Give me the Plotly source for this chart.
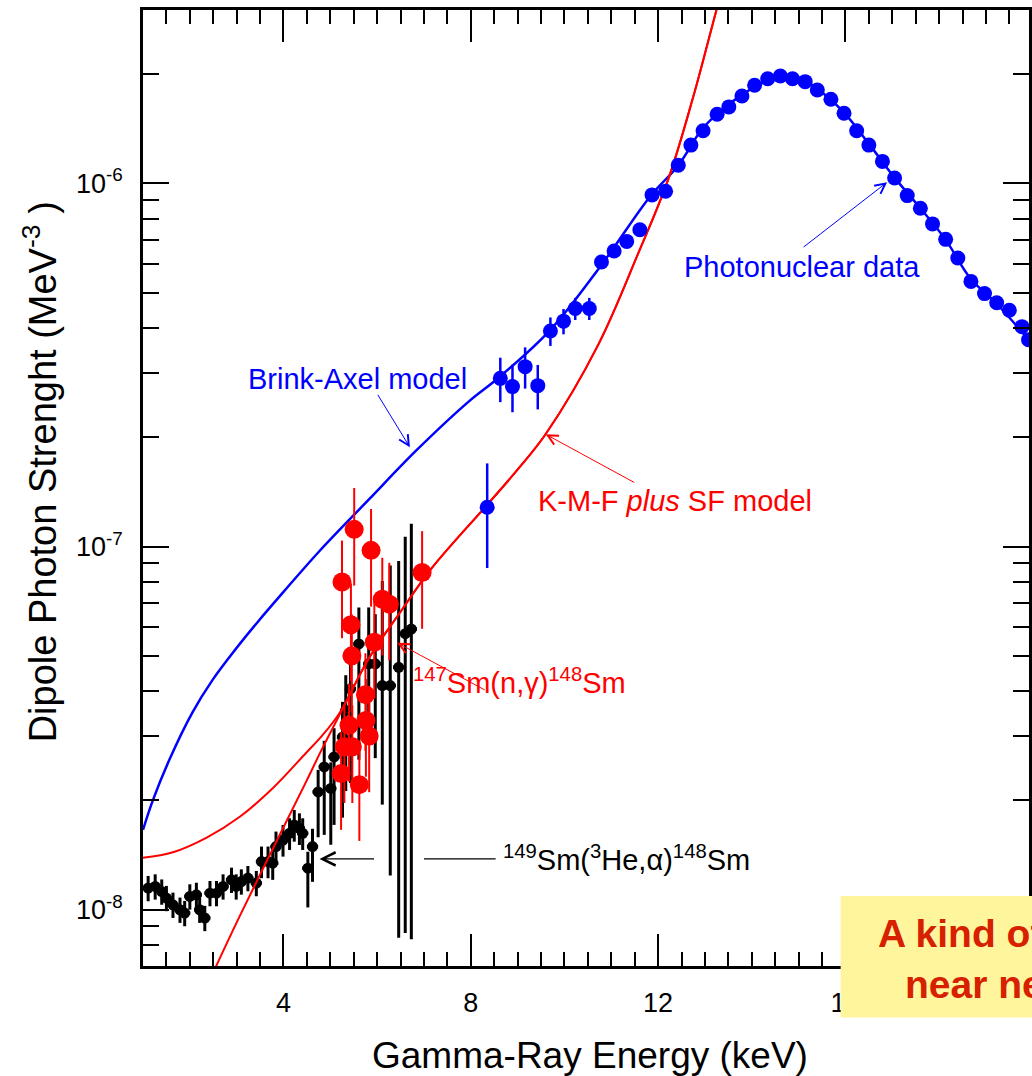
import math
import plotly.graph_objects as go

# ------------------------------------------------------------
# Data
# ------------------------------------------------------------

# 149Sm(3He,a)148Sm  (black points), energy in keV, strength in MeV^-3
he3_energy = [1.11, 1.26, 1.40, 1.50, 1.64, 1.79, 1.89, 2.00, 2.14, 2.21,
              2.32, 2.43, 2.57, 2.71, 2.89, 2.99, 3.10, 3.24, 3.42, 3.53,
              3.67, 3.77, 3.84, 3.99, 4.13, 4.23, 4.34, 4.41, 4.52, 4.62,
              4.74, 4.87, 5.01, 5.08, 5.26, 5.33, 5.43, 5.61, 5.82, 5.96,
              6.11, 6.28, 6.46, 6.60, 6.73]
he3_strength = [1.147e-8, 1.159e-8, 1.122e-8, 1.077e-8, 1.032e-8, 1.000e-8, 0.979e-8, 1.088e-8, 1.099e-8, 1.000e-8,
                0.949e-8, 1.111e-8, 1.111e-8, 1.159e-8, 1.209e-8, 1.159e-8, 1.196e-8, 1.222e-8, 1.184e-8, 1.357e-8,
                1.357e-8, 1.343e-8, 1.492e-8, 1.556e-8, 1.623e-8, 1.711e-8, 1.675e-8, 1.623e-8, 1.301e-8, 1.492e-8,
                2.111e-8, 2.473e-8, 2.157e-8, 2.634e-8, 2.988e-8, 3.538e-8, 4.057e-8, 5.392e-8, 4.753e-8, 4.753e-8,
                4.143e-8, 4.143e-8, 4.651e-8, 5.754e-8, 5.927e-8]
he3_err_up_pct = [8, 8, 8, 8, 8, 8, 8, 8, 8, 8,
                  8, 8, 8, 8, 8, 8, 8, 8, 8, 10,
                  10, 10, 10, 10, 10, 10, 10, 10, 11, 12,
                  15, 18, 18, 20, 25, 25, 30, 26, 43, 37,
                  94, 114, 96, 85, 95]
he3_err_dn_pct = [8, 8, 8, 8, 8, 8, 8, 8, 8, 8,
                  8, 8, 8, 8, 8, 8, 8, 8, 8, 10,
                  10, 10, 10, 10, 10, 10, 10, 10, 22, 20,
                  25, 35, 30, 35, 40, 40, 45, 52, 38, 45,
                  53, 70, 82, 85, 86]

# 147Sm(n,g)148Sm  (red points), 30 % errors
ng_energy = [5.51, 5.87, 5.25, 6.96, 6.11, 6.26, 5.44, 5.94, 5.46,
             5.75, 5.40, 5.76, 5.83, 5.30, 5.47, 5.23, 5.62]
ng_strength = [1.115e-7, 9.76e-8, 7.99e-8, 8.48e-8, 7.16e-8, 6.94e-8, 6.09e-8, 5.45e-8, 5.00e-8,
               3.91e-8, 3.22e-8, 3.32e-8, 3.01e-8, 2.81e-8, 2.81e-8, 2.37e-8, 2.21e-8]
ng_err_pct = 30

# Photonuclear data (blue points)
gdr_energy = [8.35, 8.63, 8.89, 9.16, 9.43, 9.70, 9.98, 10.23, 10.53, 10.79,
              11.06, 11.33, 11.61, 11.87, 12.16, 12.43, 12.70, 12.96, 13.26, 13.51,
              13.79, 14.06, 14.34, 14.61, 14.87, 15.14, 15.40, 15.69, 15.97, 16.24,
              16.50, 16.79, 17.05, 17.32, 17.60, 17.86, 18.14, 18.40, 18.68, 18.97,
              19.23, 19.50, 19.77, 19.91]
gdr_strength = [1.283e-7, 2.904e-7, 2.756e-7, 3.128e-7, 2.773e-7, 3.919e-7, 4.173e-7, 4.52e-7, 4.52e-7, 6.07e-7,
                6.51e-7, 6.92e-7, 7.45e-7, 9.29e-7, 9.51e-7, 1.122e-6, 1.274e-6, 1.395e-6, 1.549e-6, 1.623e-6,
                1.740e-6, 1.861e-6, 1.941e-6, 1.975e-6, 1.941e-6, 1.905e-6, 1.807e-6, 1.703e-6, 1.559e-6, 1.395e-6,
                1.274e-6, 1.149e-6, 1.034e-6, 9.25e-7, 8.54e-7, 7.73e-7, 7.01e-7, 6.23e-7, 5.37e-7, 4.97e-7,
                4.69e-7, 4.47e-7, 4.03e-7, 3.71e-7]
gdr_err_pct = [32, 14, 15, 13, 14, 9, 8, 7, 7, 3,
               3, 2, 2, 2, 2, 0, 0, 0, 0, 0,
               0, 0, 0, 0, 0, 0, 0, 0, 0, 0,
               0, 0, 0, 0, 0, 0, 0, 0, 0, 0,
               0, 0, 0, 0]

# Brink-Axel model curve
ba_energy = [1.0, 1.21, 1.57, 2.06, 2.49, 2.98, 3.45, 4.0, 4.77, 5.83,
             6.82, 7.96, 8.60, 9.70, 10.79, 11.85, 12.43, 12.92, 13.28, 13.81,
             14.34, 14.62, 14.87, 15.15, 15.40, 15.96, 16.51, 17.04, 17.60, 18.13,
             18.68, 19.23, 19.91]
ba_strength = [1.66e-8, 2.00e-8, 2.60e-8, 3.50e-8, 4.30e-8, 5.22e-8, 6.20e-8, 7.5e-8, 9.72e-8, 1.35e-7,
               1.83e-7, 2.51e-7, 2.92e-7, 3.95e-7, 5.96e-7, 9.27e-7, 1.12e-6, 1.40e-6, 1.56e-6, 1.76e-6,
               1.92e-6, 1.97e-6, 1.95e-6, 1.91e-6, 1.82e-6, 1.57e-6, 1.28e-6, 1.04e-6, 8.54e-7, 7.02e-7,
               5.45e-7, 4.66e-7, 3.71e-7]

# K-M-F plus SF model: two low-energy branches joining one upper curve
kmf_flat_energy = [1.0, 1.64, 2.36, 3.06, 3.77, 4.49, 4.83, 5.19]
kmf_flat_strength = [1.39e-8, 1.44e-8, 1.58e-8, 1.80e-8, 2.16e-8, 2.71e-8, 3.02e-8, 3.47e-8]
kmf_steep_energy = [2.43, 3.06, 3.77, 4.49, 4.81, 5.30]
kmf_steep_strength = [6.43e-9, 9.57e-9, 1.47e-8, 2.26e-8, 2.75e-8, 3.65e-8]
kmf_energy = [5.83, 6.47, 7.17, 8.32, 9.02, 9.60, 10.72, 11.57, 12.21, 12.75, 13.23, 13.38]
kmf_strength = [4.94e-8, 6.53e-8, 8.73e-8, 1.29e-7, 1.64e-7, 2.04e-7, 3.59e-7, 6.39e-7, 1.02e-6, 1.73e-6,
                2.95e-6, 3.47e-6]

# Axis ticks
x_major = [4, 8, 12, 16]
y_major = [1e-8, 1e-7, 1e-6]
y_major_text = ["10<sup>-8</sup>", "10<sup>-7</sup>", "10<sup>-6</sup>"]
y_minor = [8e-9, 9e-9] + [k * 1e-8 for k in range(2, 10)] + [k * 1e-7 for k in range(2, 10)] + [2e-6, 3e-6]

FONT = "Liberation Sans, Arial, sans-serif"
BLUE = "#0000FF"
RED = "#FF0000"

# ------------------------------------------------------------
# Figure
# ------------------------------------------------------------

fig = go.Figure()

fig.add_trace(go.Scatter(
    x=he3_energy, y=he3_strength, mode="markers",
    marker=dict(color="black", size=11),
    error_y=dict(type="data", array=[y * p / 100 for y, p in zip(he3_strength, he3_err_up_pct)],
                 arrayminus=[y * p / 100 for y, p in zip(he3_strength, he3_err_dn_pct)],
                 color="black", thickness=3, width=0),
    error_x=dict(type="constant", value=0.12, color="black", thickness=3.5, width=0),
    showlegend=False,
))

fig.add_trace(go.Scatter(
    x=ba_energy, y=ba_strength, mode="lines",
    line=dict(color=BLUE, width=2.5, shape="spline"),
    showlegend=False,
))

fig.add_trace(go.Scatter(
    x=kmf_flat_energy + kmf_energy, y=kmf_flat_strength + kmf_strength, mode="lines",
    line=dict(color=RED, width=2, shape="spline"),
    showlegend=False,
))
fig.add_trace(go.Scatter(
    x=kmf_steep_energy + kmf_energy, y=kmf_steep_strength + kmf_strength, mode="lines",
    line=dict(color=RED, width=2, shape="spline"),
    showlegend=False,
))

fig.add_trace(go.Scatter(
    x=ng_energy, y=ng_strength, mode="markers",
    marker=dict(color=RED, size=19),
    error_y=dict(type="percent", value=ng_err_pct, color=RED, thickness=2, width=0),
    showlegend=False,
))

fig.add_trace(go.Scatter(
    x=gdr_energy, y=gdr_strength, mode="markers",
    marker=dict(color=BLUE, size=15),
    error_y=dict(type="data", array=[y * p / 100 for y, p in zip(gdr_strength, gdr_err_pct)],
                 color=BLUE, thickness=2.5, width=0),
    showlegend=False,
))


def lg(v):
    return math.log10(v)


label_font = dict(family=FONT, size=29)
annotations = [
    # labels
    dict(x=5.57, y=-6.538, text="Brink-Axel model", font=dict(label_font, color=BLUE)),
    dict(x=15.08, y=-6.23, text="Photonuclear data", font=dict(label_font, color=BLUE)),
    dict(x=12.35, y=-6.875, text="K-M-F <i>plus</i> SF model", font=dict(label_font, color=RED)),
    dict(x=9.05, y=-7.369, text="<sup>147</sup>Sm(n,γ)<sup>148</sup>Sm", font=dict(label_font, color=RED)),
    dict(x=11.33, y=-7.857, text="<sup>149</sup>Sm(<sup>3</sup>He,α)<sup>148</sup>Sm",
         font=dict(label_font, color="black")),
    # arrows
    dict(x=6.70, y=-6.727, ax=-33, ay=-54, text="", showarrow=True, arrowhead=5, arrowsize=2,
         arrowwidth=1, arrowcolor=BLUE),
    dict(x=16.89, y=-5.997, ax=-85, ay=66, text="", showarrow=True, arrowhead=5, arrowsize=2,
         arrowwidth=1, arrowcolor=BLUE),
    dict(x=9.60, y=-6.691, ax=90, ay=49, text="", showarrow=True, arrowhead=5, arrowsize=2,
         arrowwidth=1, arrowcolor=RED),
    dict(x=6.43, y=-7.265, ax=89, ay=48, text="", showarrow=True, arrowhead=5, arrowsize=2,
         arrowwidth=1, arrowcolor=RED),
    dict(x=4.77, y=-7.860, ax=56, ay=0, text="", showarrow=True, arrowhead=5, arrowsize=2,
         arrowwidth=1.3, arrowcolor="black"),
]
for a in annotations:
    a.setdefault("xref", "x")
    a.setdefault("yref", "y")
    a.setdefault("showarrow", False)
    fig.add_annotation(**a)

# axis titles placed as annotations
title_font = dict(family=FONT, color="black")
fig.add_annotation(xref="paper", yref="paper", x=0.504, y=-0.0931, xanchor="center", yanchor="middle",
                   text="Gamma-Ray Energy (keV)", showarrow=False, font=dict(title_font, size=37))
fig.add_annotation(xref="paper", yref="paper", x=-0.1159, y=0.5167, xanchor="center", yanchor="middle",
                   textangle=-90, text="Dipole Photon Strenght (MeV<sup>-3</sup> )", showarrow=False,
                   font=dict(title_font, size=38))

# second half of the 3He arrow line
fig.add_shape(type="line", xref="x", yref="paper", x0=7.0, x1=8.53, y0=0.112, y1=0.112,
              line=dict(color="black", width=1.3))

# yellow note box (cut by the right edge of the picture)
fig.add_shape(type="rect", xref="paper", yref="paper", x0=0.7874, x1=1.05, y0=-0.054, y1=0.0732,
              fillcolor="#FFF59D", line=dict(width=0), layer="above")
box_font = dict(family=FONT, size=39, color="#D62000")
fig.add_annotation(xref="paper", yref="paper", x=0.8268, y=0.0345, xanchor="left", yanchor="middle",
                   text="<b>A kind of pygmy resonance</b>", showarrow=False, font=box_font)
fig.add_annotation(xref="paper", yref="paper", x=0.8583, y=-0.0195, xanchor="left", yanchor="middle",
                   text="<b>near neutron threshold</b>", showarrow=False, font=box_font)

fig.update_xaxes(
    range=[1, 19.92],
    showline=True, linewidth=2.5, linecolor="black", mirror="ticks",
    ticks="inside", ticklen=32, tickwidth=2, tickcolor="black",
    tickmode="array", tickvals=x_major,
    tickfont=dict(family=FONT, size=27, color="black"),
    ticklabelstandoff=11,
    minor=dict(ticks="inside", dtick=0.5, tick0=0, ticklen=14, tickwidth=2, tickcolor="black"),
    showgrid=False, zeroline=False,
)
fig.update_yaxes(
    type="log", range=[lg(7e-9), lg(3e-6)],
    showline=True, linewidth=2.5, linecolor="black", mirror="ticks",
    ticks="inside", ticklen=26, tickwidth=2, tickcolor="black",
    tickmode="array", tickvals=y_major, ticktext=y_major_text,
    tickfont=dict(family=FONT, size=27, color="black"),
    ticklabelstandoff=12,
    minor=dict(ticks="inside", tickmode="array", tickvals=y_minor, ticklen=16, tickwidth=2, tickcolor="black"),
    showgrid=False, zeroline=False,
)

fig.update_layout(
    width=1032, height=1076,
    margin=dict(l=143, r=0, t=10, b=110),
    plot_bgcolor="white", paper_bgcolor="white",
    font=dict(family=FONT),
    showlegend=False,
)

# drop the default page margin so the figure fills the window
fig.write_html("out.html", config={"displayModeBar": False},
               post_script="document.body.style.margin='0';"
                           "document.documentElement.style.overflow='hidden';")
